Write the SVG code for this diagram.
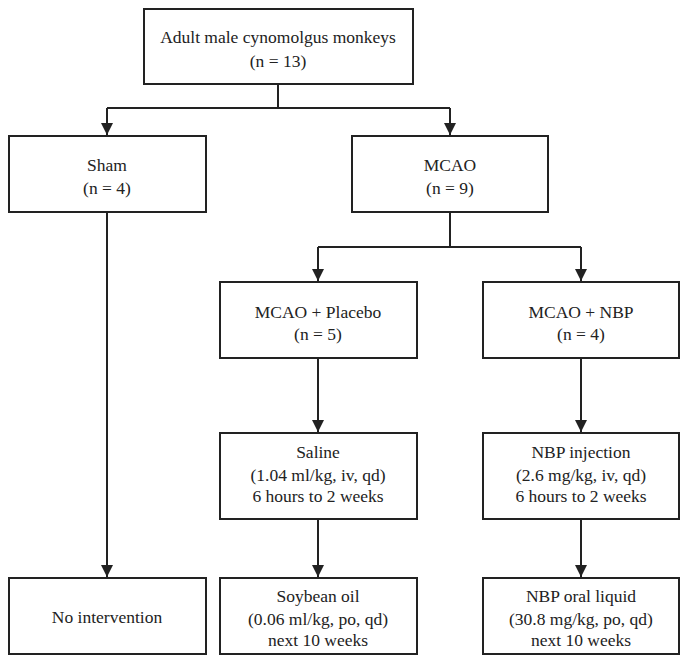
<svg xmlns="http://www.w3.org/2000/svg" width="687" height="661" viewBox="0 0 687 661">
<style>
.box{fill:#fff;stroke:#222;stroke-width:2}
.t{font-family:Liberation Serif, Times New Roman, Times, serif;font-size:17.5px;fill:#222;text-anchor:middle}
.c{fill:none;stroke:#222;stroke-width:2}
</style>
<defs>
<marker id="ah" markerUnits="userSpaceOnUse" markerWidth="12" markerHeight="14" refX="12" refY="6" orient="auto">
<path d="M0,0 L12,6 L0,12 Z" fill="#222"/>
</marker>
</defs>
<rect width="687" height="661" fill="#fff"/>
<g id="connectors">
<path class="c" d="M278,84 V108 M107,108 H450"/>
<path class="c" d="M107,108 V135" marker-end="url(#ah)"/>
<path class="c" d="M450,108 V135" marker-end="url(#ah)"/>
<path class="c" d="M107,212 V577" marker-end="url(#ah)"/>
<path class="c" d="M450,212 V247 M318,247 H581"/>
<path class="c" d="M318,247 V281" marker-end="url(#ah)"/>
<path class="c" d="M581,247 V281" marker-end="url(#ah)"/>
<path class="c" d="M318,358 V432" marker-end="url(#ah)"/>
<path class="c" d="M581,358 V432" marker-end="url(#ah)"/>
<path class="c" d="M318,519 V577" marker-end="url(#ah)"/>
<path class="c" d="M581,519 V577" marker-end="url(#ah)"/>
</g>
<g id="root">
<rect class="box" x="144" y="9" width="269" height="75"/>
<text class="t" font-family="Liberation Serif" x="278" y="43">Adult male cynomolgus monkeys</text>
<text class="t" font-family="Liberation Serif" x="278" y="67">(n = 13)</text>
</g>
<g id="sham">
<rect class="box" x="9" y="136" width="197" height="76"/>
<text class="t" x="107" y="171">Sham</text>
<text class="t" x="107" y="194">(n = 4)</text>
</g>
<g id="mcao">
<rect class="box" x="352" y="136" width="196" height="76"/>
<text class="t" x="450" y="171">MCAO</text>
<text class="t" x="450" y="194">(n = 9)</text>
</g>
<g id="placebo">
<rect class="box" x="220" y="282" width="197" height="76"/>
<text class="t" x="318" y="318">MCAO + Placebo</text>
<text class="t" x="318" y="340">(n = 5)</text>
</g>
<g id="nbp">
<rect class="box" x="483" y="282" width="196" height="76"/>
<text class="t" x="581" y="318">MCAO + NBP</text>
<text class="t" x="581" y="340">(n = 4)</text>
</g>
<g id="saline">
<rect class="box" x="220" y="433" width="197" height="86"/>
<text class="t" x="318" y="458">Saline</text>
<text class="t" x="318" y="481">(1.04 ml/kg, iv, qd)</text>
<text class="t" x="318" y="502">6 hours to 2 weeks</text>
</g>
<g id="nbp-injection">
<rect class="box" x="483" y="433" width="196" height="86"/>
<text class="t" x="581" y="458">NBP injection</text>
<text class="t" x="581" y="481">(2.6 mg/kg, iv, qd)</text>
<text class="t" x="581" y="502">6 hours to 2 weeks</text>
</g>
<g id="no-intervention">
<rect class="box" x="9" y="578" width="197" height="76"/>
<text class="t" x="107" y="623">No intervention</text>
</g>
<g id="soybean">
<rect class="box" x="220" y="578" width="197" height="76"/>
<text class="t" x="318" y="602">Soybean oil</text>
<text class="t" x="318" y="625">(0.06 ml/kg, po, qd)</text>
<text class="t" x="318" y="646">next 10 weeks</text>
</g>
<g id="nbp-oral">
<rect class="box" x="483" y="578" width="196" height="76"/>
<text class="t" x="581" y="602">NBP oral liquid</text>
<text class="t" x="581" y="625">(30.8 mg/kg, po, qd)</text>
<text class="t" x="581" y="646">next 10 weeks</text>
</g>
</svg>
